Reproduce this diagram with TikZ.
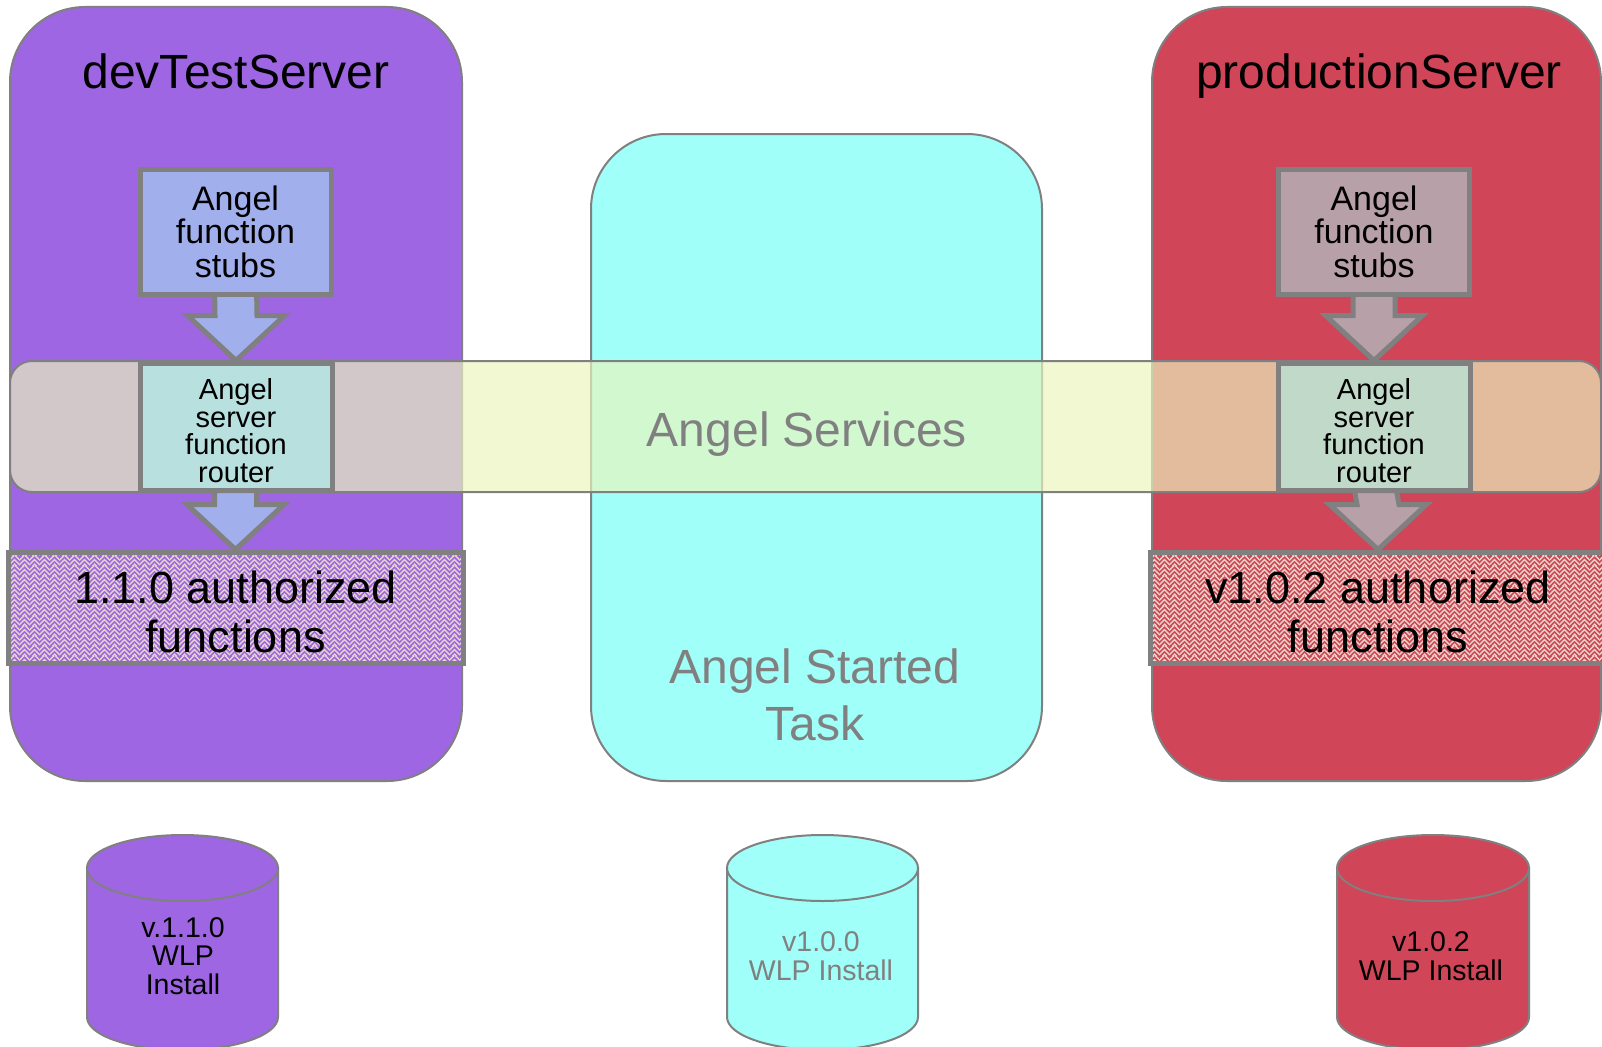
\documentclass[tikz,border=0pt]{standalone}
\usepackage{fontspec}
\setmainfont{Liberation Sans}
\usetikzlibrary{calc,patterns.meta}

\definecolor{devpurple}{HTML}{9E66E2}
\definecolor{startcyan}{HTML}{A0FFF8}
\definecolor{prodred}{HTML}{D04558}
\definecolor{edgegray}{HTML}{808080}
\definecolor{stubblue}{HTML}{A1AFEC}
\definecolor{stubmauve}{HTML}{B7A0A8}
\definecolor{routerteal}{HTML}{B8E0DF}
\definecolor{routersage}{HTML}{C0D9C8}
\definecolor{bandyellow}{RGB}{235,245,190}
\definecolor{weavelight}{HTML}{E6D6C8}

\pgfdeclarelayer{paper}
\pgfdeclarelayer{servers}
\pgfdeclarelayer{arrows}
\pgfdeclarelayer{band}
\pgfsetlayers{paper,servers,arrows,band,main}

% woven texture used for the authorized-function blocks
\tikzdeclarepattern{
  name=weave,
  type=uncolored,
  bottom left={(0pt,0pt)},
  top right={(10pt,10pt)},
  tile size={(10pt,10pt)},
  code={
    \draw[line width=1.5pt] (-1pt,1pt) -- (5pt,7pt) -- (11pt,1pt);
    \draw[line width=1.5pt] (-1pt,6pt) -- (5pt,12pt) -- (11pt,6pt);
    \draw[line width=1.5pt] (-1pt,-4pt) -- (5pt,2pt) -- (11pt,-4pt);
  }
}

\tikzset{
  server/.style={draw=edgegray, line width=2pt, rounded corners=75pt, inner sep=0pt},
  title/.style={font=\fontsize{48}{57}\selectfont, text=black, anchor=base},
  boxedge/.style={draw=edgegray, line width=5pt, inner sep=0pt},
  stubbox/.style={boxedge, minimum width=191pt, minimum height=125pt, align=center,
    font=\fontsize{34}{33.5}\selectfont},
  routerbox/.style={boxedge, minimum width=192pt, minimum height=127pt},
  routertext/.style={align=center, inner sep=0pt, font=\fontsize{29}{27.6}\selectfont},
  authbox/.style={boxedge, minimum height=111pt, pattern=weave, pattern color=weavelight},
  authtext/.style={align=center, inner sep=0pt, font=\fontsize{45}{49}\selectfont},
  arrowline/.style={draw=edgegray, line width=5pt, line join=miter},
  drum/.style={draw=edgegray, line width=2pt},
  drumtext/.style={align=center, inner sep=0pt, font=\fontsize{28.5}{28.5}\selectfont},
  graytext/.style={text=edgegray}
}

% block arrow from the bottom of one box to the top of the next
\newcommand\blockarrow[3]{%
  \draw[arrowline, fill=#3]
    ($(#1.south)+(-21,10)$) -- ($(#2.north)+(-21,45)$) -- ($(#2.north)+(-48.5,45)$)
    -- (#2.north) -- ($(#2.north)+(48.5,45)$) -- ($(#2.north)+(21,45)$)
    -- ($(#1.south)+(21,10)$) -- cycle;}

% install drum: left x, right x, fill
\newcommand\drumshape[3]{%
  \pgfmathsetmacro\drumrx{(#2-#1)/2}%
  \filldraw[drum, fill=#3] (#1,-868) -- (#1,-1017)
    arc[start angle=180, end angle=360, x radius=\drumrx, y radius=33]
    -- (#2,-868) -- cycle;
  \filldraw[drum, fill=#3] ({(#1+#2)/2},-868) ellipse[x radius=\drumrx, y radius=33];}

\begin{document}
\begin{tikzpicture}[x=1pt, y=1pt]
\useasboundingbox (0,0) rectangle (1602,-1046);
\begin{pgfonlayer}{paper}
  \fill[white] (0,0) rectangle (1602,-1046);
\end{pgfonlayer}

% server columns
\begin{pgfonlayer}{servers}
  \node[server, fill=devpurple, minimum width=452pt, minimum height=774pt] (dev) at (236,-394) {};
  \node[server, fill=startcyan, minimum width=451pt, minimum height=647pt] (ast) at (816.5,-457.5) {};
  \node[server, fill=prodred, minimum width=449pt, minimum height=774pt] (prod) at (1376.5,-394) {};
\end{pgfonlayer}

\node[title] (devtitle) at (236,-89) {devTestServer};
\node[title] (prodtitle) at (1379,-89) {productionServer};

% shared services band
\begin{pgfonlayer}{band}
  \node[draw=edgegray, line width=2pt, rounded corners=22pt, fill=bandyellow, fill opacity=0.68,
        minimum width=1591pt, minimum height=131pt, inner sep=0pt] (svc) at (805.5,-426.5) {};
\end{pgfonlayer}
\node[graytext, anchor=base, font=\fontsize{48}{57}\selectfont] (svctext) at (807,-446) {Angel Services};

\node[graytext, align=center, font=\fontsize{48}{57}\selectfont] (asttext) at (815,-695) {Angel Started\\Task};

% devTestServer stack
\node[stubbox, fill=stubblue] (stubL) at (235.5,-231.5) {Angel\\function\\stubs};
\node[routerbox, fill=routerteal] (routL) at (236,-426.5) {};
\node[routertext] (routLtext) at ($(routL.center)+(0,-4)$) {Angel\\server\\function\\router};
\node[authbox, preaction={fill=devpurple}, minimum width=455pt] (authL) at (235.5,-607.5) {};
\node[authtext] (authLtext) at ($(authL.center)+(0,-4)$) {1.1.0 authorized\\functions};

% productionServer stack
\node[stubbox, fill=stubmauve] (stubR) at (1374,-231.5) {Angel\\function\\stubs};
\node[routerbox, fill=routersage] (routR) at (1374,-426.5) {};
\node[routertext] (routRtext) at ($(routR.center)+(0,-4)$) {Angel\\server\\function\\router};
\node[authbox, preaction={fill=prodred}, minimum width=456pt] (authR) at (1378,-607.5) {};
\node[authtext] (authRtext) at ($(authR.center)+(0,-4)$) {v1.0.2 authorized\\functions};

\begin{pgfonlayer}{arrows}
  \blockarrow{stubL}{routL}{stubblue}
  \blockarrow{routL}{authL}{stubblue}
  \blockarrow{stubR}{routR}{stubmauve}
  \blockarrow{routR}{authR}{stubmauve}
\end{pgfonlayer}

% install drums
\drumshape{87}{278}{devpurple}
\drumshape{727}{918}{startcyan}
\drumshape{1337}{1529}{prodred}
\node[drumtext] (wlpL) at (183,-956) {v.1.1.0\\WLP\\Install};
\node[drumtext, graytext] (wlpC) at (821,-956) {v1.0.0\\WLP Install};
\node[drumtext] (wlpR) at (1431,-956) {v1.0.2\\WLP Install};
\end{tikzpicture}
\end{document}
